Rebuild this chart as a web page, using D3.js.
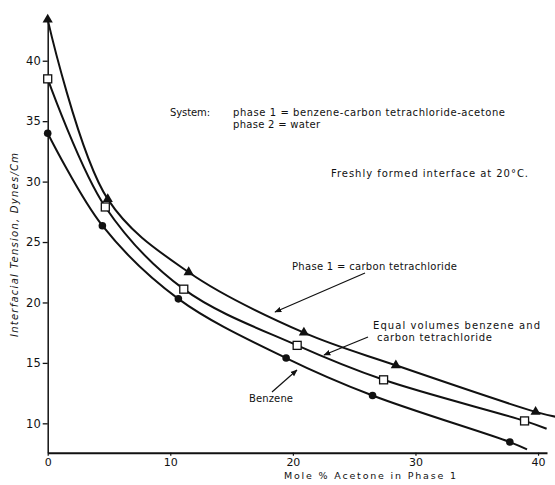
<!DOCTYPE html>
<html>
<head>
<meta charset="utf-8">
<script src="https://cdn.jsdelivr.net/npm/d3@7"></script>
<style>
  body { margin: 0; background: #fff; }
  text { font-family: "DejaVu Sans", sans-serif; fill: #111; }
</style>
</head>
<body>
<div id="chart"></div>
<script>
// data (mole % acetone, dynes/cm)
var ccl4X = [0, 4.9, 11.5, 20.9, 28.4, 39.8];
var ccl4Y = [43.4, 28.55, 22.5, 17.5, 14.8, 10.95];
var ccl4End = [41.4, 10.55];

var equalX = [0, 4.7, 11.1, 20.35, 27.4, 38.9];
var equalY = [38.5, 27.9, 21.1, 16.45, 13.6, 10.2];
var equalEnd = [40.7, 9.55];

var benzX = [0, 4.46, 10.66, 19.45, 26.5, 37.7];
var benzY = [34.0, 26.35, 20.3, 15.4, 12.3, 8.45];
var benzEnd = [39.1, 7.85];

var xTicks = [0, 10, 20, 30, 40];
var yTicks = [10, 15, 20, 25, 30, 35, 40];

var width = 555, height = 485;

var svg = d3.select("#chart").append("svg")
    .attr("width", width)
    .attr("height", height);

var x = d3.scaleLinear().domain([0, 40.73]).range([47.7, 547]);
var y = d3.scaleLinear().domain([7.57, 43.37]).range([452.7, 20]);

// axes
var yAxis = d3.axisLeft(y).tickValues(yTicks).tickSize(5).tickSizeOuter(0)
    .tickFormat(d3.format("d"));
var gy = svg.append("g").attr("transform", "translate(" + x(0) + ",0)").call(yAxis);
gy.select(".domain").attr("stroke", "#111").attr("stroke-width", 1.5);
gy.selectAll(".tick line").attr("stroke", "#111").attr("stroke-width", 1.3);
gy.selectAll(".tick text").attr("font-size", 11.5).attr("fill", "#111")
    .attr("font-family", "DejaVu Sans, sans-serif").attr("x", -7);

var xAxis = d3.axisBottom(x).tickValues(xTicks).tickSize(3).tickSizeOuter(0).tickPadding(3);
var gx = svg.append("g").attr("transform", "translate(0," + y(7.57) + ")").call(xAxis);
gx.select(".domain").attr("stroke", "#111").attr("stroke-width", 2);
gx.selectAll(".tick line").attr("stroke", "#111").attr("stroke-width", 1.2);
gx.selectAll(".tick text").attr("font-size", 11).attr("fill", "#111")
    .attr("font-family", "DejaVu Sans, sans-serif");

// axis titles
svg.append("text")
    .attr("transform", "translate(18,245) rotate(-90)")
    .attr("text-anchor", "middle")
    .attr("font-size", 10)
    .attr("font-style", "italic")
    .attr("textLength", 184)
    .attr("lengthAdjust", "spacing")
    .text("Interfacial Tension, Dynes/Cm");

svg.append("text")
    .attr("x", 370).attr("y", 479)
    .attr("text-anchor", "middle")
    .attr("font-size", 9.5)
    .attr("textLength", 172)
    .attr("lengthAdjust", "spacing")
    .text("Mole % Acetone in Phase 1");

// curves
function pts(xs, ys, end) {
  var p = xs.map(function(d, i) { return [d, ys[i]]; });
  p.push(end);
  return p;
}
var line = d3.line()
    .x(function(d) { return x(d[0]); })
    .y(function(d) { return y(d[1]); })
    .curve(d3.curveCatmullRom.alpha(0.5));

[pts(ccl4X, ccl4Y, ccl4End), pts(equalX, equalY, equalEnd), pts(benzX, benzY, benzEnd)]
  .forEach(function(p) {
    svg.append("path")
      .attr("d", line(p))
      .attr("fill", "none")
      .attr("stroke", "#111")
      .attr("stroke-width", 2);
  });

// markers
svg.selectAll(".tri").data(ccl4X).enter().append("path")
    .attr("class", "tri")
    .attr("transform", function(d, i) { return "translate(" + x(d) + "," + y(ccl4Y[i]) + ")"; })
    .attr("d", d3.symbol().type(d3.symbolTriangle).size(45))
    .attr("fill", "#111");

svg.selectAll(".sq").data(equalX).enter().append("rect")
    .attr("class", "sq")
    .attr("x", function(d) { return x(d) - 4; })
    .attr("y", function(d, i) { return y(equalY[i]) - 4; })
    .attr("width", 8).attr("height", 8)
    .attr("fill", "#fff").attr("stroke", "#111").attr("stroke-width", 1.3);

svg.selectAll(".dot").data(benzX).enter().append("circle")
    .attr("class", "dot")
    .attr("cx", function(d) { return x(d); })
    .attr("cy", function(d, i) { return y(benzY[i]); })
    .attr("r", 3.8)
    .attr("fill", "#111");

// annotations (x, baseline, width as measured on the original)
var notes = [
  { t: "System:", x: 170, y: 116, w: 40 },
  { t: "phase 1 = benzene-carbon tetrachloride-acetone", x: 233, y: 116, w: 272 },
  { t: "phase 2 = water", x: 233, y: 128, w: 87 },
  { t: "Freshly formed interface at 20\u00b0C.", x: 331, y: 177, w: 197 },
  { t: "Phase 1 = carbon tetrachloride", x: 292, y: 270, w: 165 },
  { t: "Equal volumes benzene and", x: 373, y: 329, w: 167 },
  { t: "carbon tetrachloride", x: 377, y: 341, w: 115 },
  { t: "Benzene", x: 249, y: 402, w: 44 }
];
svg.selectAll(".note").data(notes).enter().append("text")
    .attr("class", "note")
    .attr("x", function(d) { return d.x; })
    .attr("y", function(d) { return d.y; })
    .attr("font-size", 10)
    .attr("textLength", function(d) { return d.w; })
    .attr("lengthAdjust", "spacing")
    .text(function(d) { return d.t; });

// arrows
svg.append("defs").append("marker")
    .attr("id", "head")
    .attr("viewBox", "0 0 10 10")
    .attr("refX", 9).attr("refY", 5)
    .attr("markerWidth", 7).attr("markerHeight", 7)
    .attr("markerUnits", "userSpaceOnUse")
    .attr("orient", "auto")
  .append("path")
    .attr("d", "M0,1 L10,5 L0,9 Z")
    .attr("fill", "#111");

var arrows = [
  [365, 273, 275, 312],
  [368, 337, 324, 355],
  [272, 392, 297, 370]
];
svg.selectAll(".arrow").data(arrows).enter().append("line")
    .attr("class", "arrow")
    .attr("x1", function(d) { return d[0]; })
    .attr("y1", function(d) { return d[1]; })
    .attr("x2", function(d) { return d[2]; })
    .attr("y2", function(d) { return d[3]; })
    .attr("stroke", "#111")
    .attr("stroke-width", 1.2)
    .attr("marker-end", "url(#head)");
</script>
</body>
</html>
